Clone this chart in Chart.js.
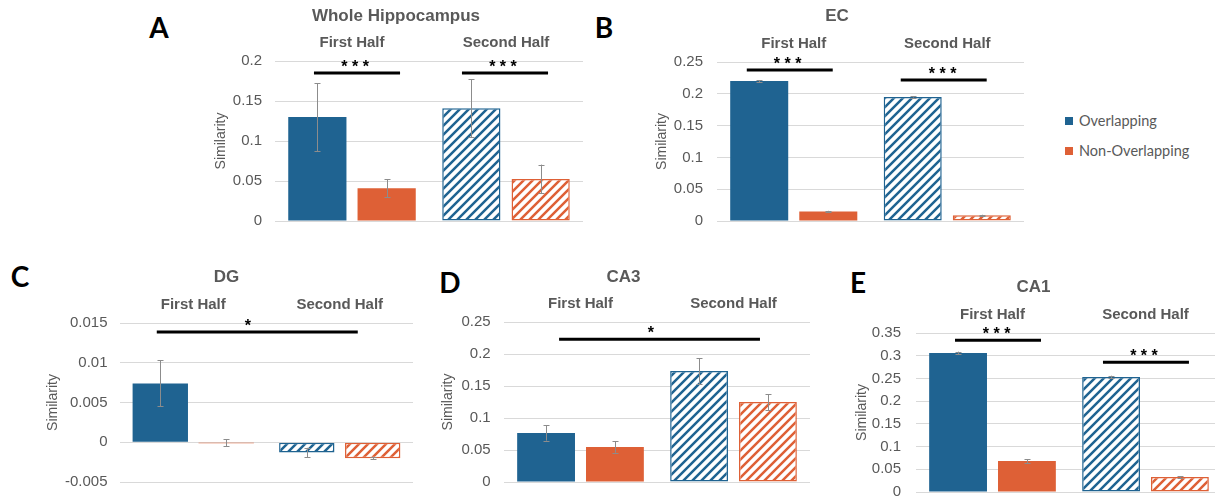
<!DOCTYPE html>
<html><head><meta charset="utf-8">
<script src="https://cdn.jsdelivr.net/npm/chart.js@4"></script>
<style>
html,body{margin:0;padding:0;width:1215px;height:497px;overflow:hidden;background:#fff;position:relative;}
canvas{position:absolute;}
.lbl{position:absolute;font-family:Lato,'Liberation Sans',sans-serif;font-weight:bold;font-size:28px;line-height:1;transform:translate(-50%,-50%);color:#000;}
.leg{position:absolute;font-family:Lato,'Liberation Sans',sans-serif;font-size:14.5px;color:#595959;line-height:1;transform:translateY(-50%);white-space:nowrap;}
.sw{position:absolute;width:8px;height:8px;}
</style></head><body>
<div class="lbl" style="left:159px;top:27px">A</div>
<div class="lbl" style="left:604px;top:27px">B</div>
<div class="lbl" style="left:20px;top:276px">C</div>
<div class="lbl" style="left:450px;top:282px">D</div>
<div class="lbl" style="left:858px;top:282px">E</div>
<div class="sw" style="left:1065px;top:117px;background:#1F6391"></div>
<div class="leg" style="left:1079px;top:121px">Overlapping</div>
<div class="sw" style="left:1065px;top:147px;background:#DE6036"></div>
<div class="leg" style="left:1079px;top:151px">Non-Overlapping</div>
<script>
// ---- data ----
const halves = ['First Half', 'Second Half'];
const seriesNames = ['Overlapping', 'Non-Overlapping'];
const panelTitles = ['Whole Hippocampus', 'EC', 'DG', 'CA3', 'CA1'];

const hipOverlap = [0.130, 0.141];
const hipOverlapErr = [0.0425, 0.036];
const hipNonOverlap = [0.041, 0.0525];
const hipNonOverlapErr = [0.011, 0.018];

const ecOverlap = [0.220, 0.195];
const ecOverlapErr = [0.0015, 0.001];
const ecNonOverlap = [0.015, 0.009];
const ecNonOverlapErr = [0.001, 0.0008];

const dgOverlap = [0.0074, -0.0013];
const dgOverlapErr = [0.0029, 0.0006];
const dgNonOverlap = [-0.00008, -0.002];
const dgNonOverlapErr = [0.00045, 0.0001];

const ca3Overlap = [0.0766, 0.1735];
const ca3OverlapErr = [0.012, 0.02];
const ca3NonOverlap = [0.0548, 0.125];
const ca3NonOverlapErr = [0.009, 0.0125];

const ca1Overlap = [0.306, 0.253];
const ca1OverlapErr = [0.003, 0.003];
const ca1NonOverlap = [0.068, 0.033];
const ca1NonOverlapErr = [0.004, 0.002];

// y tick ranges [min, max, step]
const hipTicks = [0, 0.2, 0.05];
const ecTicks = [0, 0.25, 0.05];
const dgTicks = [-0.005, 0.015, 0.005];
const ca3Ticks = [0, 0.25, 0.05];
const ca1Ticks = [0, 0.35, 0.05];

// ---- styles ----
const BLUE = '#1F6391', ORANGE = '#DE6036', GRID = '#D9D9D9', TXT = '#595959';
const FONT = "'Liberation Sans', Arial, sans-serif";
const fmt = v => String(parseFloat(Number(v).toFixed(4)));

function hatch(ctx, color) {
  const s = 9;
  const c = document.createElement('canvas');
  c.width = s; c.height = s;
  const g = c.getContext('2d');
  g.fillStyle = '#fff'; g.fillRect(0, 0, s, s);
  g.strokeStyle = color; g.lineWidth = 2.5;
  g.beginPath();
  g.moveTo(-2, s + 2); g.lineTo(s + 2, -2);
  g.moveTo(-2, 2); g.lineTo(2, -2);
  g.moveTo(s - 2, s + 2); g.lineTo(s + 2, s - 2);
  g.stroke();
  return ctx.createPattern(c, 'repeat');
}

const errorBars = {
  id: 'errorBars',
  afterDatasetsDraw(chart) {
    const ctx = chart.ctx, y = chart.scales.y;
    chart.data.datasets.forEach((ds, i) => {
      const meta = chart.getDatasetMeta(i);
      meta.data.forEach((bar, j) => {
        const v = ds.data[j], e = ds.errors[j];
        const top = y.getPixelForValue(v + e), bot = y.getPixelForValue(v - e);
        const x = Math.round(bar.x) + 0.5;
        ctx.save();
        ctx.strokeStyle = '#8C8C8C'; ctx.lineWidth = 1;
        ctx.beginPath();
        ctx.moveTo(x, top); ctx.lineTo(x, bot);
        ctx.moveTo(x - 3, Math.round(top) + 0.5); ctx.lineTo(x + 3, Math.round(top) + 0.5);
        ctx.moveTo(x - 3, Math.round(bot) + 0.5); ctx.lineTo(x + 3, Math.round(bot) + 0.5);
        ctx.stroke();
        ctx.restore();
      });
    });
  }
};

const sigBars = {
  id: 'sigBars',
  afterDraw(chart, args, opts) {
    const items = (opts && opts.items) || [];
    const ctx = chart.ctx, x = chart.scales.x, y = chart.scales.y;
    items.forEach(it => {
      const x1 = x.getPixelForValue(it.from), x2 = x.getPixelForValue(it.to);
      const yy = y.getPixelForValue(it.y);
      ctx.save();
      ctx.strokeStyle = '#000'; ctx.lineWidth = 3;
      ctx.beginPath(); ctx.moveTo(x1, yy); ctx.lineTo(x2, yy); ctx.stroke();
      ctx.fillStyle = '#000';
      ctx.font = 'bold 16px ' + FONT;
      ctx.textAlign = 'center'; ctx.textBaseline = 'alphabetic';
      ctx.fillText(it.label, x.getPixelForValue(it.starX), y.getPixelForValue(it.starY) + 0.57 * 16);
      ctx.restore();
    });
  }
};

function makePanel(p) {
  const cv = document.createElement('canvas');
  cv.width = p.w; cv.height = p.h;
  cv.style.left = p.left + 'px'; cv.style.top = p.top + 'px';
  cv.style.width = p.w + 'px'; cv.style.height = p.h + 'px';
  document.body.appendChild(cv);
  const ctx = cv.getContext('2d');
  const blueH = hatch(ctx, BLUE), orH = hatch(ctx, ORANGE);
  new Chart(cv, {
    type: 'bar',
    data: {
      labels: halves,
      datasets: [
        { label: seriesNames[0], data: p.over, errors: p.overErr, minBarLength: 1,
          backgroundColor: [BLUE, blueH], borderColor: [BLUE, BLUE], borderWidth: [0, 1.5], borderSkipped: false },
        { label: seriesNames[1], data: p.non, errors: p.nonErr, minBarLength: 1,
          backgroundColor: [ORANGE, orH], borderColor: [ORANGE, ORANGE], borderWidth: [0, 1.5], borderSkipped: false }
      ]
    },
    options: {
      responsive: false, animation: false, devicePixelRatio: 1,
      categoryPercentage: 0.9, barPercentage: 0.84,
      layout: { padding: { left: 0, right: 0, top: 0, bottom: p.padB } },
      plugins: {
        legend: { display: false }, tooltip: { enabled: false },
        title: { display: true, text: p.title, color: TXT,
          font: { family: FONT, size: 17, weight: 'bold', lineHeight: 1.2 },
          padding: { top: p.tp, bottom: 0 } },
        sigBars: { items: p.sig }
      },
      scales: {
        x: {
          position: 'top',
          grid: { display: false, drawTicks: false },
          border: { display: false },
          ticks: { color: TXT, font: { family: FONT, size: 15, weight: 'bold', lineHeight: 1.2 }, padding: 9, maxRotation: 0 },
          afterFit(s) { s.height = p.xh; }
        },
        y: {
          min: p.ticks[0], max: p.ticks[1],
          grid: { color: GRID, drawTicks: false, lineWidth: 1 },
          border: { display: false },
          ticks: { stepSize: p.ticks[2], color: TXT, font: { family: FONT, size: 15 }, padding: p.tickPad, callback: v => fmt(v) },
          title: { display: true, text: 'Similarity', color: TXT, font: { family: FONT, size: 14, lineHeight: 1.2 }, padding: { top: p.ytp, bottom: 0 } },
          afterFit(s) { s.width = p.wy; s.paddingTop = 0; s.paddingBottom = 0; }
        }
      }
    },
    plugins: [errorBars, sigBars]
  });
}

makePanel({ title: panelTitles[0], over: hipOverlap, overErr: hipOverlapErr, non: hipNonOverlap, nonErr: hipNonOverlapErr, ticks: hipTicks,
  left: 209, top: 0, w: 374, h: 236, wy: 66, tickPad: 13, ytp: 3.6, tp: 6.3, xh: 34.3, padB: 15,
  sig: [ { from: -0.247, to: 0.312, y: 0.185, starX: 0.02, starY: 0.1975, label: '* * *' },
         { from: 0.714, to: 1.273, y: 0.185, starX: 0.98, starY: 0.1975, label: '* * *' } ] });

makePanel({ title: panelTitles[1], over: ecOverlap, overErr: ecOverlapErr, non: ecNonOverlap, nonErr: ecNonOverlapErr, ticks: ecTicks,
  left: 650, top: 0, w: 374, h: 236, wy: 67, tickPad: 14, ytp: 3.6, tp: 6.5, xh: 35.1, padB: 15,
  sig: [ { from: -0.306, to: 0.254, y: 0.2374, starX: -0.04, starY: 0.253, label: '* * *' },
         { from: 0.697, to: 1.257, y: 0.2217, starX: 0.97, starY: 0.237, label: '* * *' } ] });

makePanel({ title: panelTitles[2], over: dgOverlap, overErr: dgOverlapErr, non: dgNonOverlap, nonErr: dgNonOverlapErr, ticks: dgTicks,
  left: 40, top: 250, w: 373, h: 247, wy: 80, tickPad: 12.5, ytp: 4.6, tp: 16.8, xh: 35.8, padB: 15,
  sig: [ { from: -0.249, to: 1.123, y: 0.01387, starX: 0.372, starY: 0.0152, label: '*' } ] });

makePanel({ title: panelTitles[3], over: ca3Overlap, overErr: ca3OverlapErr, non: ca3NonOverlap, nonErr: ca3NonOverlapErr, ticks: ca3Ticks,
  left: 437, top: 250, w: 373, h: 247, wy: 67, tickPad: 13.3, ytp: 2.9, tp: 17.3, xh: 34.3, padB: 15,
  sig: [ { from: -0.14, to: 1.173, y: 0.223, starX: 0.46, starY: 0.2397, label: '*' } ] });

makePanel({ title: panelTitles[4], over: ca1Overlap, overErr: ca1OverlapErr, non: ca1NonOverlap, nonErr: ca1NonOverlapErr, ticks: ca1Ticks,
  left: 845, top: 250, w: 377, h: 257, wy: 71, tickPad: 15, ytp: 8.3, tp: 27.1, xh: 35.5, padB: 15,
  sig: [ { from: -0.245, to: 0.317, y: 0.334, starX: 0.027, starY: 0.356, label: '* * *' },
         { from: 0.722, to: 1.284, y: 0.2855, starX: 0.99, starY: 0.308, label: '* * *' } ] });
</script>
</body></html>
